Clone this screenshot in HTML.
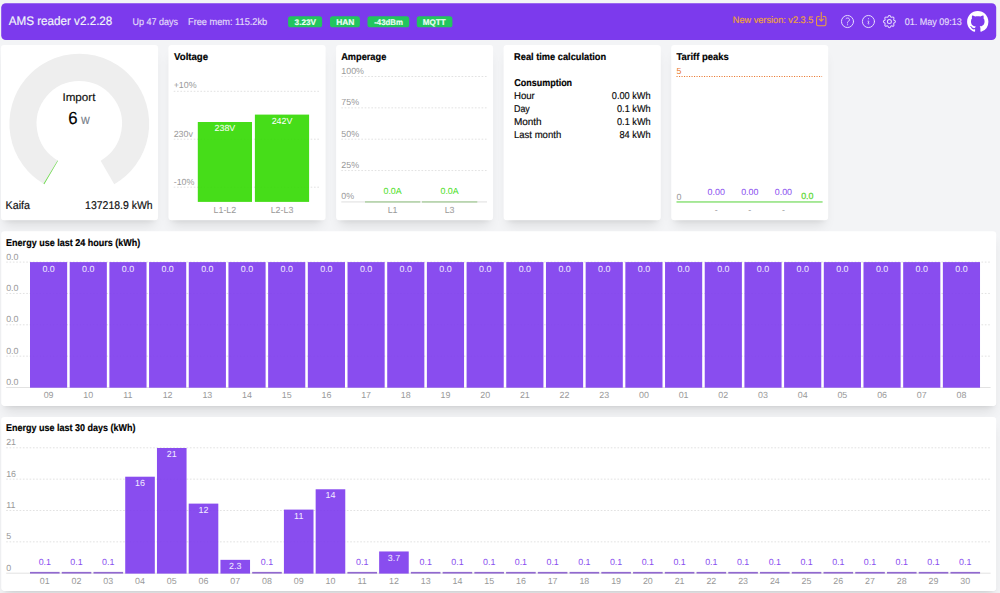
<!DOCTYPE html>
<html lang="en"><head><meta charset="utf-8"><title>AMS reader</title>
<style>
html,body{margin:0;padding:0;}
body{width:1000px;height:593px;overflow:hidden;background:#f3f4f6;position:relative;font-family:"Liberation Sans",sans-serif;}
.cnt{position:absolute;background:#fff;border-radius:3.3px;box-shadow:0 8px 12px -3px rgba(0,0,0,.1),0 3px 5px -3px rgba(0,0,0,.1);}
.ov{position:absolute;left:0;top:0;}
</style></head><body>
<div class="cnt" style="left:2px;top:46px;width:155px;height:174px"></div>
<div class="cnt" style="left:169px;top:46px;width:155px;height:174px"></div>
<div class="cnt" style="left:337px;top:46px;width:155px;height:174px"></div>
<div class="cnt" style="left:505px;top:46px;width:155px;height:174px"></div>
<div class="cnt" style="left:672px;top:46px;width:155px;height:174px"></div>
<div class="cnt" style="left:2px;top:232px;width:994px;height:174px"></div>
<div class="cnt" style="left:2px;top:418px;width:994px;height:173px"></div>
<svg class="ov" width="1000" height="593" viewBox="0 0 1000 593" font-family="Liberation Sans, sans-serif" text-rendering="geometricPrecision">
<rect x="1.2" y="3.2" width="995" height="36.9" rx="4.6" fill="#7c3aed"/>
<rect x="288.1" y="16.2" width="34.0" height="11.1" rx="2.6" fill="#22c55e"/>
<rect x="330" y="16.2" width="29.9" height="11.1" rx="2.6" fill="#22c55e"/>
<rect x="367.5" y="16.2" width="41.7" height="11.1" rx="2.6" fill="#22c55e"/>
<rect x="416.8" y="16.2" width="35.6" height="11.1" rx="2.6" fill="#22c55e"/>
<rect x="0.9" y="44.9" width="157.2" height="175.4" rx="3.3" fill="#fff"/>
<rect x="168.4" y="44.9" width="157.2" height="175.4" rx="3.3" fill="#fff"/>
<rect x="336.1" y="44.9" width="157" height="175.4" rx="3.3" fill="#fff"/>
<rect x="503.6" y="44.9" width="157.2" height="175.4" rx="3.3" fill="#fff"/>
<rect x="671.2" y="44.9" width="157" height="175.4" rx="3.3" fill="#fff"/>
<rect x="1.2" y="231.2" width="995" height="174.7" rx="3.3" fill="#fff"/>
<rect x="1.2" y="417.1" width="995" height="173.8" rx="3.3" fill="#fff"/>
<path d="M51.15 172.46A56.3 56.3 0 1 1 107.45 172.46" stroke="#eeeeee" stroke-width="27.2" fill="none"/>
<path d="M51.15 172.46A56.3 56.3 0 0 1 50.56 172.11" stroke="#6bdc4a" stroke-width="27.2" fill="none"/>
<line x1="173.7" x2="319.4" y1="91.3" y2="91.3" stroke="#e2e2e2" stroke-width="1" stroke-dasharray="1.67"/>
<text x="173.7" y="88.2" font-size="8.9" fill="#999" text-anchor="start">+10%</text>
<line x1="173.7" x2="319.4" y1="139.2" y2="139.2" stroke="#e2e2e2" stroke-width="1" stroke-dasharray="1.67"/>
<text x="173.7" y="137.0" font-size="8.9" fill="#999" text-anchor="start">230v</text>
<line x1="173.7" x2="319.4" y1="187.2" y2="187.2" stroke="#e2e2e2" stroke-width="1" stroke-dasharray="1.67"/>
<text x="173.7" y="185.0" font-size="8.9" fill="#999" text-anchor="start">-10%</text>
<rect x="197.8" y="122" width="54.2" height="79.9" fill="#32d900" opacity=".9"/>
<rect x="254.9" y="114.6" width="54.2" height="87.3" fill="#32d900" opacity=".9"/>
<text x="224.9" y="130.9" font-size="8.9" fill="#fff" text-anchor="middle">238V</text>
<text x="282" y="123.5" font-size="8.9" fill="#fff" text-anchor="middle">242V</text>
<text x="224.9" y="212.6" font-size="8.9" fill="#999" text-anchor="middle">L1-L2</text>
<text x="282" y="212.6" font-size="8.9" fill="#999" text-anchor="middle">L2-L3</text>
<line x1="341.3" x2="487" y1="76.5" y2="76.5" stroke="#e2e2e2" stroke-width="1" stroke-dasharray="1.67"/>
<text x="341.3" y="73.9" font-size="8.9" fill="#999" text-anchor="start">100%</text>
<line x1="341.3" x2="487" y1="107.85" y2="107.85" stroke="#e2e2e2" stroke-width="1" stroke-dasharray="1.67"/>
<text x="341.3" y="105.25" font-size="8.9" fill="#999" text-anchor="start">75%</text>
<line x1="341.3" x2="487" y1="139.2" y2="139.2" stroke="#e2e2e2" stroke-width="1" stroke-dasharray="1.67"/>
<text x="341.3" y="136.6" font-size="8.9" fill="#999" text-anchor="start">50%</text>
<line x1="341.3" x2="487" y1="170.55" y2="170.55" stroke="#e2e2e2" stroke-width="1" stroke-dasharray="1.67"/>
<text x="341.3" y="167.95000000000002" font-size="8.9" fill="#999" text-anchor="start">25%</text>
<rect x="341.3" y="201.25" width="145.7" height="1.3" fill="#e6e6e6"/>
<text x="341.3" y="199.3" font-size="8.9" fill="#999" text-anchor="start">0%</text>
<rect x="365" y="201.05" width="55.2" height="1.7" fill="#b7d4ad"/>
<rect x="422" y="201.05" width="55.3" height="1.7" fill="#b7d4ad"/>
<text x="392.6" y="193.9" font-size="8.9" fill="#47dd1a" text-anchor="middle">0.0A</text>
<text x="449.6" y="193.9" font-size="8.9" fill="#47dd1a" text-anchor="middle">0.0A</text>
<text x="392.6" y="212.6" font-size="8.9" fill="#999" text-anchor="middle">L1</text>
<text x="449.6" y="212.6" font-size="8.9" fill="#999" text-anchor="middle">L3</text>
<line x1="676.5" x2="822.1" y1="76.5" y2="76.5" stroke="#ea7b35" stroke-width="1.15" stroke-dasharray="1.1 1.4"/>
<text x="676.5" y="73.6" font-size="8.9" fill="#ea7b35" text-anchor="start">5</text>
<text x="676.5" y="199.5" font-size="8.9" fill="#999" text-anchor="start">0</text>
<rect x="676.5" y="201.2" width="146.1" height="1.5" fill="#8de27a"/>
<text x="716.2" y="194.8" font-size="8.9" fill="#894eef" text-anchor="middle">0.00</text>
<text x="716.2" y="212.9" font-size="8.9" fill="#999" text-anchor="middle">-</text>
<text x="749.8" y="194.8" font-size="8.9" fill="#894eef" text-anchor="middle">0.00</text>
<text x="749.8" y="212.9" font-size="8.9" fill="#999" text-anchor="middle">-</text>
<text x="783.4" y="194.8" font-size="8.9" fill="#894eef" text-anchor="middle">0.00</text>
<text x="783.4" y="212.9" font-size="8.9" fill="#999" text-anchor="middle">-</text>
<text x="807.3" y="199.2" font-size="8.9" fill="#5fd93a" text-anchor="middle" stroke="#5fd93a" stroke-width="0.25">0.0</text>
<line x1="6.2" x2="990.6" y1="262.1" y2="262.1" stroke="#e2e2e2" stroke-width="1" stroke-dasharray="1.67"/>
<text x="6.2" y="259.5" font-size="8.9" fill="#999" text-anchor="start">0.0</text>
<line x1="6.2" x2="990.6" y1="293.45000000000005" y2="293.45000000000005" stroke="#e2e2e2" stroke-width="1" stroke-dasharray="1.67"/>
<text x="6.2" y="290.85" font-size="8.9" fill="#999" text-anchor="start">0.0</text>
<line x1="6.2" x2="990.6" y1="324.8" y2="324.8" stroke="#e2e2e2" stroke-width="1" stroke-dasharray="1.67"/>
<text x="6.2" y="322.2" font-size="8.9" fill="#999" text-anchor="start">0.0</text>
<line x1="6.2" x2="990.6" y1="356.15000000000003" y2="356.15000000000003" stroke="#e2e2e2" stroke-width="1" stroke-dasharray="1.67"/>
<text x="6.2" y="353.55" font-size="8.9" fill="#999" text-anchor="start">0.0</text>
<line x1="6.2" x2="990.6" y1="387.5" y2="387.5" stroke="#e2e2e2" stroke-width="1"/>
<text x="6.2" y="384.9" font-size="8.9" fill="#999" text-anchor="start">0.0</text>
<rect x="30.00" y="262.1" width="37.15" height="125.6" fill="#7c3aed" opacity=".9"/>
<text x="48.58" y="271.8" font-size="8.9" fill="#f3edff" text-anchor="middle">0.0</text>
<text x="48.58" y="397.8" font-size="8.9" fill="#999" text-anchor="middle">09</text>
<rect x="69.69" y="262.1" width="37.15" height="125.6" fill="#7c3aed" opacity=".9"/>
<text x="88.27" y="271.8" font-size="8.9" fill="#f3edff" text-anchor="middle">0.0</text>
<text x="88.27" y="397.8" font-size="8.9" fill="#999" text-anchor="middle">10</text>
<rect x="109.38" y="262.1" width="37.15" height="125.6" fill="#7c3aed" opacity=".9"/>
<text x="127.95" y="271.8" font-size="8.9" fill="#f3edff" text-anchor="middle">0.0</text>
<text x="127.95" y="397.8" font-size="8.9" fill="#999" text-anchor="middle">11</text>
<rect x="149.07" y="262.1" width="37.15" height="125.6" fill="#7c3aed" opacity=".9"/>
<text x="167.64" y="271.8" font-size="8.9" fill="#f3edff" text-anchor="middle">0.0</text>
<text x="167.64" y="397.8" font-size="8.9" fill="#999" text-anchor="middle">12</text>
<rect x="188.76" y="262.1" width="37.15" height="125.6" fill="#7c3aed" opacity=".9"/>
<text x="207.33" y="271.8" font-size="8.9" fill="#f3edff" text-anchor="middle">0.0</text>
<text x="207.33" y="397.8" font-size="8.9" fill="#999" text-anchor="middle">13</text>
<rect x="228.45" y="262.1" width="37.15" height="125.6" fill="#7c3aed" opacity=".9"/>
<text x="247.02" y="271.8" font-size="8.9" fill="#f3edff" text-anchor="middle">0.0</text>
<text x="247.02" y="397.8" font-size="8.9" fill="#999" text-anchor="middle">14</text>
<rect x="268.14" y="262.1" width="37.15" height="125.6" fill="#7c3aed" opacity=".9"/>
<text x="286.71" y="271.8" font-size="8.9" fill="#f3edff" text-anchor="middle">0.0</text>
<text x="286.71" y="397.8" font-size="8.9" fill="#999" text-anchor="middle">15</text>
<rect x="307.83" y="262.1" width="37.15" height="125.6" fill="#7c3aed" opacity=".9"/>
<text x="326.40" y="271.8" font-size="8.9" fill="#f3edff" text-anchor="middle">0.0</text>
<text x="326.40" y="397.8" font-size="8.9" fill="#999" text-anchor="middle">16</text>
<rect x="347.52" y="262.1" width="37.15" height="125.6" fill="#7c3aed" opacity=".9"/>
<text x="366.09" y="271.8" font-size="8.9" fill="#f3edff" text-anchor="middle">0.0</text>
<text x="366.09" y="397.8" font-size="8.9" fill="#999" text-anchor="middle">17</text>
<rect x="387.21" y="262.1" width="37.15" height="125.6" fill="#7c3aed" opacity=".9"/>
<text x="405.78" y="271.8" font-size="8.9" fill="#f3edff" text-anchor="middle">0.0</text>
<text x="405.78" y="397.8" font-size="8.9" fill="#999" text-anchor="middle">18</text>
<rect x="426.90" y="262.1" width="37.15" height="125.6" fill="#7c3aed" opacity=".9"/>
<text x="445.47" y="271.8" font-size="8.9" fill="#f3edff" text-anchor="middle">0.0</text>
<text x="445.47" y="397.8" font-size="8.9" fill="#999" text-anchor="middle">19</text>
<rect x="466.59" y="262.1" width="37.15" height="125.6" fill="#7c3aed" opacity=".9"/>
<text x="485.16" y="271.8" font-size="8.9" fill="#f3edff" text-anchor="middle">0.0</text>
<text x="485.16" y="397.8" font-size="8.9" fill="#999" text-anchor="middle">20</text>
<rect x="506.28" y="262.1" width="37.15" height="125.6" fill="#7c3aed" opacity=".9"/>
<text x="524.86" y="271.8" font-size="8.9" fill="#f3edff" text-anchor="middle">0.0</text>
<text x="524.86" y="397.8" font-size="8.9" fill="#999" text-anchor="middle">21</text>
<rect x="545.97" y="262.1" width="37.15" height="125.6" fill="#7c3aed" opacity=".9"/>
<text x="564.55" y="271.8" font-size="8.9" fill="#f3edff" text-anchor="middle">0.0</text>
<text x="564.55" y="397.8" font-size="8.9" fill="#999" text-anchor="middle">22</text>
<rect x="585.66" y="262.1" width="37.15" height="125.6" fill="#7c3aed" opacity=".9"/>
<text x="604.24" y="271.8" font-size="8.9" fill="#f3edff" text-anchor="middle">0.0</text>
<text x="604.24" y="397.8" font-size="8.9" fill="#999" text-anchor="middle">23</text>
<rect x="625.35" y="262.1" width="37.15" height="125.6" fill="#7c3aed" opacity=".9"/>
<text x="643.92" y="271.8" font-size="8.9" fill="#f3edff" text-anchor="middle">0.0</text>
<text x="643.92" y="397.8" font-size="8.9" fill="#999" text-anchor="middle">00</text>
<rect x="665.04" y="262.1" width="37.15" height="125.6" fill="#7c3aed" opacity=".9"/>
<text x="683.62" y="271.8" font-size="8.9" fill="#f3edff" text-anchor="middle">0.0</text>
<text x="683.62" y="397.8" font-size="8.9" fill="#999" text-anchor="middle">01</text>
<rect x="704.73" y="262.1" width="37.15" height="125.6" fill="#7c3aed" opacity=".9"/>
<text x="723.31" y="271.8" font-size="8.9" fill="#f3edff" text-anchor="middle">0.0</text>
<text x="723.31" y="397.8" font-size="8.9" fill="#999" text-anchor="middle">02</text>
<rect x="744.42" y="262.1" width="37.15" height="125.6" fill="#7c3aed" opacity=".9"/>
<text x="763.00" y="271.8" font-size="8.9" fill="#f3edff" text-anchor="middle">0.0</text>
<text x="763.00" y="397.8" font-size="8.9" fill="#999" text-anchor="middle">03</text>
<rect x="784.11" y="262.1" width="37.15" height="125.6" fill="#7c3aed" opacity=".9"/>
<text x="802.68" y="271.8" font-size="8.9" fill="#f3edff" text-anchor="middle">0.0</text>
<text x="802.68" y="397.8" font-size="8.9" fill="#999" text-anchor="middle">04</text>
<rect x="823.80" y="262.1" width="37.15" height="125.6" fill="#7c3aed" opacity=".9"/>
<text x="842.38" y="271.8" font-size="8.9" fill="#f3edff" text-anchor="middle">0.0</text>
<text x="842.38" y="397.8" font-size="8.9" fill="#999" text-anchor="middle">05</text>
<rect x="863.49" y="262.1" width="37.15" height="125.6" fill="#7c3aed" opacity=".9"/>
<text x="882.07" y="271.8" font-size="8.9" fill="#f3edff" text-anchor="middle">0.0</text>
<text x="882.07" y="397.8" font-size="8.9" fill="#999" text-anchor="middle">06</text>
<rect x="903.18" y="262.1" width="37.15" height="125.6" fill="#7c3aed" opacity=".9"/>
<text x="921.75" y="271.8" font-size="8.9" fill="#f3edff" text-anchor="middle">0.0</text>
<text x="921.75" y="397.8" font-size="8.9" fill="#999" text-anchor="middle">07</text>
<rect x="942.87" y="262.1" width="37.15" height="125.6" fill="#7c3aed" opacity=".9"/>
<text x="961.44" y="271.8" font-size="8.9" fill="#f3edff" text-anchor="middle">0.0</text>
<text x="961.44" y="397.8" font-size="8.9" fill="#999" text-anchor="middle">08</text>
<line x1="6.2" x2="990.6" y1="447.8" y2="447.8" stroke="#e2e2e2" stroke-width="1" stroke-dasharray="1.67"/>
<text x="6.2" y="445.2" font-size="8.9" fill="#999" text-anchor="start">21</text>
<line x1="6.2" x2="990.6" y1="479.15000000000003" y2="479.15000000000003" stroke="#e2e2e2" stroke-width="1" stroke-dasharray="1.67"/>
<text x="6.2" y="476.55" font-size="8.9" fill="#999" text-anchor="start">16</text>
<line x1="6.2" x2="990.6" y1="510.5" y2="510.5" stroke="#e2e2e2" stroke-width="1" stroke-dasharray="1.67"/>
<text x="6.2" y="507.9" font-size="8.9" fill="#999" text-anchor="start">11</text>
<line x1="6.2" x2="990.6" y1="541.85" y2="541.85" stroke="#e2e2e2" stroke-width="1" stroke-dasharray="1.67"/>
<text x="6.2" y="539.25" font-size="8.9" fill="#999" text-anchor="start">5</text>
<line x1="6.2" x2="990.6" y1="573.2" y2="573.2" stroke="#e2e2e2" stroke-width="1"/>
<text x="6.2" y="570.6" font-size="8.9" fill="#999" text-anchor="start">0</text>
<rect x="30.00" y="571.90" width="29.6" height="1.70" fill="#9169cf" opacity="1"/>
<text x="44.80" y="564.5" font-size="8.9" fill="#894eef" text-anchor="middle">0.1</text>
<text x="44.80" y="583.6" font-size="8.9" fill="#999" text-anchor="middle">01</text>
<rect x="61.74" y="571.90" width="29.6" height="1.70" fill="#9169cf" opacity="1"/>
<text x="76.54" y="564.5" font-size="8.9" fill="#894eef" text-anchor="middle">0.1</text>
<text x="76.54" y="583.6" font-size="8.9" fill="#999" text-anchor="middle">02</text>
<rect x="93.48" y="571.90" width="29.6" height="1.70" fill="#9169cf" opacity="1"/>
<text x="108.28" y="564.5" font-size="8.9" fill="#894eef" text-anchor="middle">0.1</text>
<text x="108.28" y="583.6" font-size="8.9" fill="#999" text-anchor="middle">03</text>
<rect x="125.22" y="476.71" width="29.6" height="96.89" fill="#7c3aed" opacity=".9"/>
<text x="140.02" y="485.91" font-size="8.9" fill="#f3edff" text-anchor="middle">16</text>
<text x="140.02" y="583.6" font-size="8.9" fill="#999" text-anchor="middle">04</text>
<rect x="156.96" y="448.00" width="29.6" height="125.60" fill="#7c3aed" opacity=".9"/>
<text x="171.76" y="457.20" font-size="8.9" fill="#f3edff" text-anchor="middle">21</text>
<text x="171.76" y="583.6" font-size="8.9" fill="#999" text-anchor="middle">05</text>
<rect x="188.70" y="503.62" width="29.6" height="69.98" fill="#7c3aed" opacity=".9"/>
<text x="203.50" y="512.82" font-size="8.9" fill="#f3edff" text-anchor="middle">12</text>
<text x="203.50" y="583.6" font-size="8.9" fill="#999" text-anchor="middle">06</text>
<rect x="220.44" y="559.84" width="29.6" height="13.76" fill="#7c3aed" opacity=".9"/>
<text x="235.24" y="569.04" font-size="8.9" fill="#f3edff" text-anchor="middle">2.3</text>
<text x="235.24" y="583.6" font-size="8.9" fill="#999" text-anchor="middle">07</text>
<rect x="252.18" y="571.90" width="29.6" height="1.70" fill="#9169cf" opacity="1"/>
<text x="266.98" y="564.5" font-size="8.9" fill="#894eef" text-anchor="middle">0.1</text>
<text x="266.98" y="583.6" font-size="8.9" fill="#999" text-anchor="middle">08</text>
<rect x="283.92" y="509.60" width="29.6" height="64.00" fill="#7c3aed" opacity=".9"/>
<text x="298.72" y="518.80" font-size="8.9" fill="#f3edff" text-anchor="middle">11</text>
<text x="298.72" y="583.6" font-size="8.9" fill="#999" text-anchor="middle">09</text>
<rect x="315.66" y="489.27" width="29.6" height="84.33" fill="#7c3aed" opacity=".9"/>
<text x="330.46" y="498.47" font-size="8.9" fill="#f3edff" text-anchor="middle">14</text>
<text x="330.46" y="583.6" font-size="8.9" fill="#999" text-anchor="middle">10</text>
<rect x="347.40" y="571.90" width="29.6" height="1.70" fill="#9169cf" opacity="1"/>
<text x="362.20" y="564.5" font-size="8.9" fill="#894eef" text-anchor="middle">0.1</text>
<text x="362.20" y="583.6" font-size="8.9" fill="#999" text-anchor="middle">11</text>
<rect x="379.14" y="551.47" width="29.6" height="22.13" fill="#7c3aed" opacity=".9"/>
<text x="393.94" y="560.67" font-size="8.9" fill="#f3edff" text-anchor="middle">3.7</text>
<text x="393.94" y="583.6" font-size="8.9" fill="#999" text-anchor="middle">12</text>
<rect x="410.88" y="571.90" width="29.6" height="1.70" fill="#9169cf" opacity="1"/>
<text x="425.68" y="564.5" font-size="8.9" fill="#894eef" text-anchor="middle">0.1</text>
<text x="425.68" y="583.6" font-size="8.9" fill="#999" text-anchor="middle">13</text>
<rect x="442.62" y="571.90" width="29.6" height="1.70" fill="#9169cf" opacity="1"/>
<text x="457.42" y="564.5" font-size="8.9" fill="#894eef" text-anchor="middle">0.1</text>
<text x="457.42" y="583.6" font-size="8.9" fill="#999" text-anchor="middle">14</text>
<rect x="474.36" y="571.90" width="29.6" height="1.70" fill="#9169cf" opacity="1"/>
<text x="489.16" y="564.5" font-size="8.9" fill="#894eef" text-anchor="middle">0.1</text>
<text x="489.16" y="583.6" font-size="8.9" fill="#999" text-anchor="middle">15</text>
<rect x="506.10" y="571.90" width="29.6" height="1.70" fill="#9169cf" opacity="1"/>
<text x="520.90" y="564.5" font-size="8.9" fill="#894eef" text-anchor="middle">0.1</text>
<text x="520.90" y="583.6" font-size="8.9" fill="#999" text-anchor="middle">16</text>
<rect x="537.84" y="571.90" width="29.6" height="1.70" fill="#9169cf" opacity="1"/>
<text x="552.64" y="564.5" font-size="8.9" fill="#894eef" text-anchor="middle">0.1</text>
<text x="552.64" y="583.6" font-size="8.9" fill="#999" text-anchor="middle">17</text>
<rect x="569.58" y="571.90" width="29.6" height="1.70" fill="#9169cf" opacity="1"/>
<text x="584.38" y="564.5" font-size="8.9" fill="#894eef" text-anchor="middle">0.1</text>
<text x="584.38" y="583.6" font-size="8.9" fill="#999" text-anchor="middle">18</text>
<rect x="601.32" y="571.90" width="29.6" height="1.70" fill="#9169cf" opacity="1"/>
<text x="616.12" y="564.5" font-size="8.9" fill="#894eef" text-anchor="middle">0.1</text>
<text x="616.12" y="583.6" font-size="8.9" fill="#999" text-anchor="middle">19</text>
<rect x="633.06" y="571.90" width="29.6" height="1.70" fill="#9169cf" opacity="1"/>
<text x="647.86" y="564.5" font-size="8.9" fill="#894eef" text-anchor="middle">0.1</text>
<text x="647.86" y="583.6" font-size="8.9" fill="#999" text-anchor="middle">20</text>
<rect x="664.80" y="571.90" width="29.6" height="1.70" fill="#9169cf" opacity="1"/>
<text x="679.60" y="564.5" font-size="8.9" fill="#894eef" text-anchor="middle">0.1</text>
<text x="679.60" y="583.6" font-size="8.9" fill="#999" text-anchor="middle">21</text>
<rect x="696.54" y="571.90" width="29.6" height="1.70" fill="#9169cf" opacity="1"/>
<text x="711.34" y="564.5" font-size="8.9" fill="#894eef" text-anchor="middle">0.1</text>
<text x="711.34" y="583.6" font-size="8.9" fill="#999" text-anchor="middle">22</text>
<rect x="728.28" y="571.90" width="29.6" height="1.70" fill="#9169cf" opacity="1"/>
<text x="743.08" y="564.5" font-size="8.9" fill="#894eef" text-anchor="middle">0.1</text>
<text x="743.08" y="583.6" font-size="8.9" fill="#999" text-anchor="middle">23</text>
<rect x="760.02" y="571.90" width="29.6" height="1.70" fill="#9169cf" opacity="1"/>
<text x="774.82" y="564.5" font-size="8.9" fill="#894eef" text-anchor="middle">0.1</text>
<text x="774.82" y="583.6" font-size="8.9" fill="#999" text-anchor="middle">24</text>
<rect x="791.76" y="571.90" width="29.6" height="1.70" fill="#9169cf" opacity="1"/>
<text x="806.56" y="564.5" font-size="8.9" fill="#894eef" text-anchor="middle">0.1</text>
<text x="806.56" y="583.6" font-size="8.9" fill="#999" text-anchor="middle">25</text>
<rect x="823.50" y="571.90" width="29.6" height="1.70" fill="#9169cf" opacity="1"/>
<text x="838.30" y="564.5" font-size="8.9" fill="#894eef" text-anchor="middle">0.1</text>
<text x="838.30" y="583.6" font-size="8.9" fill="#999" text-anchor="middle">26</text>
<rect x="855.24" y="571.90" width="29.6" height="1.70" fill="#9169cf" opacity="1"/>
<text x="870.04" y="564.5" font-size="8.9" fill="#894eef" text-anchor="middle">0.1</text>
<text x="870.04" y="583.6" font-size="8.9" fill="#999" text-anchor="middle">27</text>
<rect x="886.98" y="571.90" width="29.6" height="1.70" fill="#9169cf" opacity="1"/>
<text x="901.78" y="564.5" font-size="8.9" fill="#894eef" text-anchor="middle">0.1</text>
<text x="901.78" y="583.6" font-size="8.9" fill="#999" text-anchor="middle">28</text>
<rect x="918.72" y="571.90" width="29.6" height="1.70" fill="#9169cf" opacity="1"/>
<text x="933.52" y="564.5" font-size="8.9" fill="#894eef" text-anchor="middle">0.1</text>
<text x="933.52" y="583.6" font-size="8.9" fill="#999" text-anchor="middle">29</text>
<rect x="950.46" y="571.90" width="29.6" height="1.70" fill="#9169cf" opacity="1"/>
<text x="965.26" y="564.5" font-size="8.9" fill="#894eef" text-anchor="middle">0.1</text>
<text x="965.26" y="583.6" font-size="8.9" fill="#999" text-anchor="middle">30</text>
<text x="8.70" y="24.5" font-size="12.3" fill="#f1f5f9" textLength="103.65" lengthAdjust="spacingAndGlyphs" stroke="#f1f5f9" stroke-width="0.18">AMS reader v2.2.28</text>
<text x="132.57" y="24.8" font-size="9.8" fill="#e2dcfa" textLength="45.53" lengthAdjust="spacingAndGlyphs" stroke="#e2dcfa" stroke-width="0.18">Up 47 days</text>
<text x="188.01" y="24.8" font-size="9.8" fill="#e2dcfa" textLength="79.17" lengthAdjust="spacingAndGlyphs" stroke="#e2dcfa" stroke-width="0.18">Free mem: 115.2kb</text>
<text x="294.64" y="24.8" font-size="8.2" fill="#ecfdf5" textLength="21.43" lengthAdjust="spacingAndGlyphs" font-weight="bold" stroke="#ecfdf5" stroke-width="0.18">3.23V</text>
<text x="336.15" y="24.8" font-size="8.2" fill="#ecfdf5" textLength="18.21" lengthAdjust="spacingAndGlyphs" font-weight="bold" stroke="#ecfdf5" stroke-width="0.18">HAN</text>
<text x="374.23" y="24.8" font-size="8.2" fill="#ecfdf5" textLength="28.62" lengthAdjust="spacingAndGlyphs" font-weight="bold" stroke="#ecfdf5" stroke-width="0.18">-43dBm</text>
<text x="422.77" y="24.8" font-size="8.2" fill="#ecfdf5" textLength="22.89" lengthAdjust="spacingAndGlyphs" font-weight="bold" stroke="#ecfdf5" stroke-width="0.18">MQTT</text>
<text x="732.77" y="23.3" font-size="9.5" fill="#eda23a" textLength="80.62" lengthAdjust="spacingAndGlyphs" stroke="#eda23a" stroke-width="0.18">New version: v2.3.5</text>
<text x="904.68" y="24.8" font-size="9.6" fill="#e2dcfa" textLength="57.20" lengthAdjust="spacingAndGlyphs" stroke="#e2dcfa" stroke-width="0.18">01. May 09:13</text>
<text x="62.45" y="101.3" font-size="11.3" fill="#111" textLength="32.99" lengthAdjust="spacingAndGlyphs" stroke="#111" stroke-width="0.18">Import</text>
<text x="68.26" y="124.4" font-size="17.6" fill="#000" textLength="9.33" lengthAdjust="spacingAndGlyphs" stroke="#000" stroke-width="0.18">6</text>
<text x="81.00" y="124.4" font-size="10.6" fill="#737a86" textLength="8.79" lengthAdjust="spacingAndGlyphs" stroke="#737a86" stroke-width="0.18">W</text>
<text x="5.54" y="208.7" font-size="11.3" fill="#111" textLength="24.50" lengthAdjust="spacingAndGlyphs" stroke="#111" stroke-width="0.18">Kaifa</text>
<text x="85.11" y="208.7" font-size="11.3" fill="#111" textLength="67.60" lengthAdjust="spacingAndGlyphs" stroke="#111" stroke-width="0.18">137218.9 kWh</text>
<text x="174.05" y="60.2" font-size="9.9" fill="#000" textLength="34.06" lengthAdjust="spacingAndGlyphs" font-weight="bold" stroke="#000" stroke-width="0.18">Voltage</text>
<text x="341.17" y="60.3" font-size="9.9" fill="#000" textLength="45.11" lengthAdjust="spacingAndGlyphs" font-weight="bold" stroke="#000" stroke-width="0.18">Amperage</text>
<text x="514.10" y="60.3" font-size="9.9" fill="#000" textLength="91.98" lengthAdjust="spacingAndGlyphs" font-weight="bold" stroke="#000" stroke-width="0.18">Real time calculation</text>
<text x="676.51" y="60.3" font-size="9.9" fill="#000" textLength="52.32" lengthAdjust="spacingAndGlyphs" font-weight="bold" stroke="#000" stroke-width="0.18">Tariff peaks</text>
<text x="6.11" y="245.7" font-size="9.9" fill="#000" textLength="134.11" lengthAdjust="spacingAndGlyphs" font-weight="bold" stroke="#000" stroke-width="0.18">Energy use last 24 hours (kWh)</text>
<text x="6.12" y="431.3" font-size="9.9" fill="#000" textLength="129.33" lengthAdjust="spacingAndGlyphs" font-weight="bold" stroke="#000" stroke-width="0.18">Energy use last 30 days (kWh)</text>
<text x="514.34" y="86.4" font-size="9.9" fill="#000" textLength="57.78" lengthAdjust="spacingAndGlyphs" font-weight="bold" stroke="#000" stroke-width="0.18">Consumption</text>
<text x="513.93" y="99.14999999999999" font-size="9.9" fill="#0b0b0b" textLength="20.89" lengthAdjust="spacingAndGlyphs" stroke="#0b0b0b" stroke-width="0.18">Hour</text>
<text x="611.78" y="99.14999999999999" font-size="9.9" fill="#0b0b0b" textLength="38.87" lengthAdjust="spacingAndGlyphs" stroke="#0b0b0b" stroke-width="0.18">0.00 kWh</text>
<text x="513.99" y="112.05" font-size="9.9" fill="#0b0b0b" textLength="15.80" lengthAdjust="spacingAndGlyphs" stroke="#0b0b0b" stroke-width="0.18">Day</text>
<text x="616.98" y="112.05" font-size="9.9" fill="#0b0b0b" textLength="33.70" lengthAdjust="spacingAndGlyphs" stroke="#0b0b0b" stroke-width="0.18">0.1 kWh</text>
<text x="513.90" y="125.05" font-size="9.9" fill="#0b0b0b" textLength="27.79" lengthAdjust="spacingAndGlyphs" stroke="#0b0b0b" stroke-width="0.18">Month</text>
<text x="616.98" y="125.05" font-size="9.9" fill="#0b0b0b" textLength="33.70" lengthAdjust="spacingAndGlyphs" stroke="#0b0b0b" stroke-width="0.18">0.1 kWh</text>
<text x="513.94" y="138.04999999999998" font-size="9.9" fill="#0b0b0b" textLength="47.26" lengthAdjust="spacingAndGlyphs" stroke="#0b0b0b" stroke-width="0.18">Last month</text>
<text x="619.43" y="138.04999999999998" font-size="9.9" fill="#0b0b0b" textLength="31.22" lengthAdjust="spacingAndGlyphs" stroke="#0b0b0b" stroke-width="0.18">84 kWh</text>
<g transform="translate(812.92 10.72) scale(0.694)" fill="none" stroke="#eda23a" stroke-width="1.5" stroke-linecap="round" stroke-linejoin="round"><path d="M9 8.25H7.5a2.25 2.25 0 00-2.25 2.25v9a2.25 2.25 0 002.25 2.25h9a2.25 2.25 0 002.25-2.25v-9a2.25 2.25 0 00-2.25-2.25H15M9 12l3 3m0 0l3-3m-3 3V2.25"/></g>
<g transform="translate(839.44 13.44) scale(0.672)" fill="none" stroke="#e6dcfb" stroke-width="1.45" stroke-linecap="round" stroke-linejoin="round"><path d="M9.879 7.519c1.171-1.025 3.071-1.025 4.242 0 1.172 1.025 1.172 2.687 0 3.712-.203.179-.43.326-.67.442-.745.361-1.45.999-1.45 1.827v.75M21 12a9 9 0 11-18 0 9 9 0 0118 0zm-9 5.25h.008v.008H12v-.008z"/></g>
<g transform="translate(860.39 13.44) scale(0.672)" fill="none" stroke="#e6dcfb" stroke-width="1.45" stroke-linecap="round" stroke-linejoin="round"><path d="M11.25 11.25l.041-.02a.75.75 0 011.063.852l-.708 2.836a.75.75 0 001.063.853l.041-.021M21 12a9 9 0 11-18 0 9 9 0 0118 0zm-9-3.75h.008v.008H12V8.25z"/></g>
<g transform="translate(881.36 13.56) scale(0.67)" fill="none" stroke="#e6dcfb" stroke-width="1.5" stroke-linecap="round" stroke-linejoin="round"><path d="M10.325 4.317c.426-1.756 2.924-1.756 3.35 0a1.724 1.724 0 002.573 1.066c1.543-.94 3.31.826 2.37 2.37a1.724 1.724 0 001.065 2.572c1.756.426 1.756 2.924 0 3.35a1.724 1.724 0 00-1.066 2.573c.94 1.543-.826 3.31-2.37 2.37a1.724 1.724 0 00-2.572 1.065c-.426 1.756-2.924 1.756-3.35 0a1.724 1.724 0 00-2.573-1.066c-1.543.94-3.31-.826-2.37-2.37a1.724 1.724 0 00-1.065-2.572c-1.756-.426-1.756-2.924 0-3.35a1.724 1.724 0 001.066-2.573c-.94-1.543.826-3.31 2.37-2.37.996.608 2.296.07 2.572-1.065z"/><path d="M15 12a3 3 0 11-6 0 3 3 0 016 0z"/></g>
<path transform="translate(967.1 11.1) scale(1.3312)" fill="#fff" fill-rule="evenodd" d="M8 0C3.58 0 0 3.58 0 8c0 3.54 2.29 6.53 5.47 7.59.4.07.55-.17.55-.38 0-.19-.01-.82-.01-1.49-2.01.37-2.53-.49-2.69-.94-.09-.23-.48-.94-.82-1.13-.28-.15-.68-.52-.01-.53.63-.01 1.08.58 1.23.82.72 1.21 1.87.87 2.33.66.07-.52.28-.87.51-1.07-1.78-.2-3.64-.89-3.64-3.95 0-.87.31-1.59.82-2.15-.08-.2-.36-1.02.08-2.12 0 0 .67-.21 2.2.82.64-.18 1.32-.27 2-.27.68 0 1.36.09 2 .27 1.53-1.04 2.2-.82 2.2-.82.44 1.1.16 1.92.08 2.12.51.56.82 1.27.82 2.15 0 3.07-1.87 3.75-3.65 3.95.29.25.54.73.54 1.48 0 1.07-.01 1.93-.01 2.2 0 .21.15.46.55.38A8.013 8.013 0 0016 8c0-4.42-3.58-8-8-8z"/>
</svg>
</body></html>
